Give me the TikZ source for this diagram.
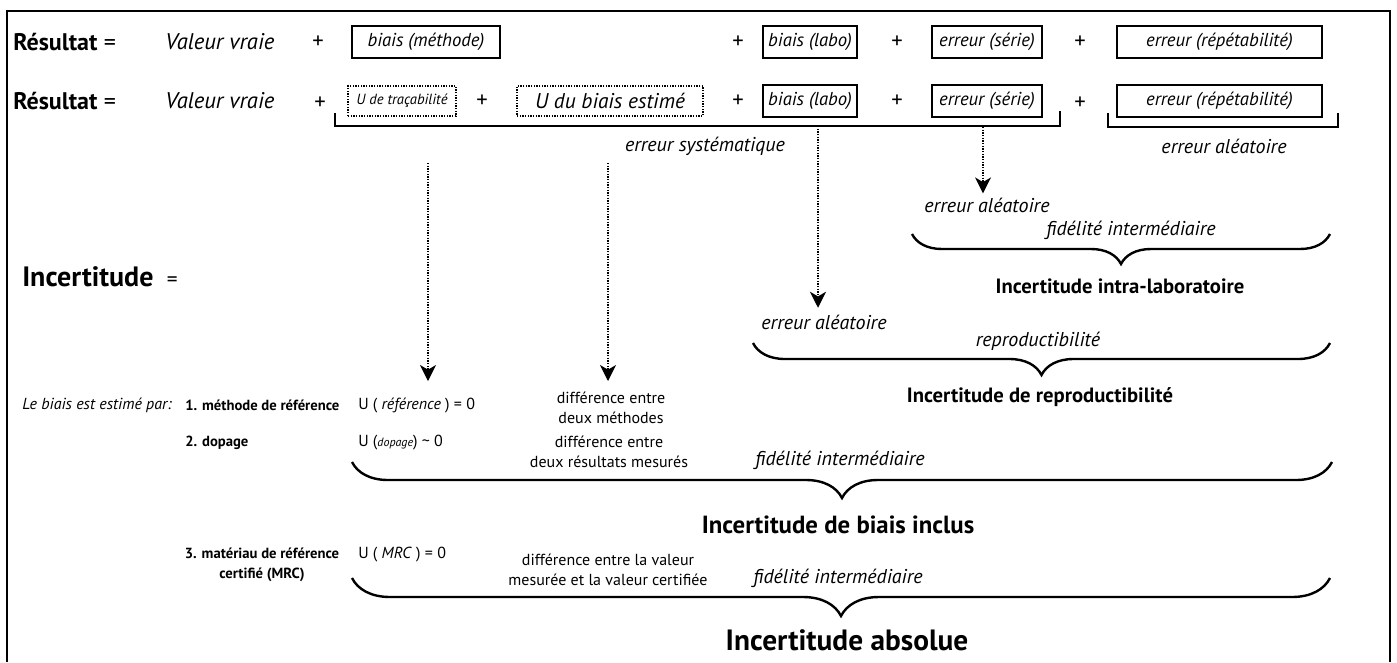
\documentclass[tikz,border=0pt]{standalone}
\usepackage{fontspec}
\setmainfont{PT Sans}
\usetikzlibrary{arrows.meta,decorations.pathreplacing}
\tikzset{>={Stealth[length=12pt,width=12pt,inset=3.5pt]}}
\tikzset{
  txt/.style={inner sep=0pt,font=\fontsize{17}{20}\selectfont},
  itxt/.style={inner sep=0pt,font=\fontsize{15}{18}\selectfont\itshape},
  boxed/.style={draw,line width=1.4pt,inner sep=0pt,minimum height=24pt,font=\fontsize{14}{17}\selectfont\itshape},
  dotbox/.style={boxed,line width=1pt,densely dotted,minimum height=22.5pt},
  small/.style={inner sep=0pt,font=\fontsize{12}{15}\selectfont,align=center},
  smallb/.style={inner sep=0pt,font=\fontsize{11}{15}\selectfont\bfseries,align=center},
  smalli/.style={inner sep=0pt,font=\fontsize{12}{15}\selectfont\itshape},
  head/.style={inner sep=0pt,font=\fontsize{15.5}{18}\selectfont\bfseries},
  big/.style={inner sep=0pt,font=\fontsize{18.6}{22}\selectfont\bfseries},
  curly/.style={decorate,line width=1.8pt,decoration={brace,amplitude=#1}},
  bracket/.style={line width=1.8pt},
  feed/.style={->,densely dotted,line width=1pt}
}
\begin{document}
\begin{tikzpicture}[x=0.75pt,y=-0.75pt]
    \useasboundingbox (0,0) rectangle (1397,662);
    \draw[line width=1.5pt] (7,662) -- (7,11) -- (1390,11) -- (1390,662);

    \node[txt,anchor=west,font=\fontsize{18}{21}\selectfont] (res1) at (13,42) {\textbf{Résultat} =};
    \node[itxt,anchor=west,font=\fontsize{17}{20}\selectfont\itshape] (vv1) at (165,42) {Valeur vraie};
    \node[txt] (p11) at (318,42) {+};
    \node[boxed,minimum width=111pt] (meth) at (426,42) {biais (méthode)};
    \node[txt] (p12) at (738,42) {+};
    \node[boxed,minimum width=70.5pt] (labo1) at (810,42) {biais (labo)};
    \node[txt] (p13) at (897,42) {+};
    \node[boxed,minimum width=82.5pt] (serie1) at (987,42) {erreur (série)};
    \node[txt] (p14) at (1080,42) {+};
    \node[boxed,minimum width=153.75pt] (repet1) at (1219.5,42) {erreur (répétabilité)};

    \node[txt,anchor=west,font=\fontsize{18}{21}\selectfont] (res2) at (13,101) {\textbf{Résultat} =};
    \node[itxt,anchor=west,font=\fontsize{17}{20}\selectfont\itshape] (vv2) at (165,101) {Valeur vraie};
    \node[txt] (p21) at (320,103) {+};
    \node[dotbox,minimum width=81pt,font=\fontsize{11}{13}\selectfont\itshape] (trac) at (402,101) {U de traçabilité};
    \node[txt] (p22) at (482,101) {+};
    \node[dotbox,minimum width=139.5pt,font=\fontsize{16}{19}\selectfont\itshape] (best) at (610,101) {U du biais estimé};
    \node[txt] (p23) at (738,101) {+};
    \node[boxed,minimum width=70.5pt] (labo2) at (810,101) {biais (labo)};
    \node[txt] (p24) at (897,101) {+};
    \node[boxed,minimum width=82.5pt] (serie2) at (987,101) {erreur (série)};
    \node[txt] (p25) at (1080,103) {+};
    \node[boxed,minimum width=153.75pt] (repet2) at (1219.5,101) {erreur (répétabilité)};

    \coordinate (sysL) at (335,113);
    \coordinate (sysR) at (1060,111);
    \draw[bracket] (sysL) -- ++(0,13) -| (sysR);
    \node[itxt] (sys) at (705,146) {erreur systématique};
    \coordinate (aleL) at (1108,113);
    \coordinate (aleR) at (1338,113);
    \draw[bracket] (aleL) -- ++(0,14) -| (aleR);
    \node[itxt] (ale) at (1224,146) {erreur aléatoire};

    \node[itxt] (alea1) at (987,205) {erreur aléatoire};
    \node[itxt] (fid1) at (1131,230) {fidélité intermédiaire};
    \draw[curly=22.5pt] (1330,234) -- (912,234);
    \node[head] (intra) at (1120,286) {Incertitude intra-laboratoire};

    \node[itxt] (alea2) at (824,322) {erreur aléatoire};
    \node[itxt] (repro) at (1038,341) {reproductibilité};
    \draw[curly=24pt] (1330,343) -- (753,343);
    \node[head] (urepro) at (1040,397) {Incertitude de reproductibilité};

    \node[big,anchor=west,font=\fontsize{21}{24}\selectfont\bfseries] (incert) at (22,277) {Incertitude\hspace{10pt}\normalfont\fontsize{16}{18}\selectfont =};

    \node[smalli,anchor=west] (estim) at (22,405) {Le biais est estimé par:};
    \node[smallb,anchor=west] (m1) at (185,405) {1. méthode de référence};
    \node[small,anchor=west] (uref) at (358,405) {U ( \textit{référence} ) = 0};
    \node[small] (diff1) at (611,408) {différence entre\\deux méthodes};
    \node[smallb,anchor=west] (m2) at (185,443) {2. dopage};
    \node[small,anchor=west] (udop) at (358,443) {U (\textit{\fontsize{9}{10}\selectfont dopage}) \textasciitilde{} 0};
    \node[small] (diff2) at (609,452) {différence entre\\deux résultats mesurés};
    \node[smallb] (m3) at (262,565) {3. matériau de référence\\certifié (MRC)};
    \node[small,anchor=west] (umrc) at (358,555) {U ( \textit{MRC} ) = 0};
    \node[small] (diff3) at (608,570) {différence entre la valeur\\mesurée et la valeur certifiée};

    \node[itxt] (fid2) at (840,460) {fidélité intermédiaire};
    \draw[curly=27pt] (1332,462) -- (352,462);
    \node[big] (ubiais) at (838,525) {Incertitude de biais inclus};
    \node[itxt] (fid3) at (838,578) {fidélité intermédiaire};
    \draw[curly=28.5pt] (1330,578) -- (352,578);
    \node[big,font=\fontsize{22}{26}\selectfont\bfseries] (uabs) at (847,640) {Incertitude absolue};

    \coordinate (f1) at (428,163);
    \coordinate (t1) at (428,381);
    \coordinate (f2) at (608,163);
    \coordinate (t2) at (608,381);
    \coordinate (s3) at (818,126);
    \coordinate (s4) at (983,127);
    \draw[feed] (f1) -- (t1);
    \draw[feed] (f2) -- (t2);
    \draw[feed] (s3) -- ([yshift=5pt]s3 |- alea2.north);
    \draw[feed] (s4) -- ([yshift=3pt]s4 |- alea1.north);
\end{tikzpicture}
\end{document}
